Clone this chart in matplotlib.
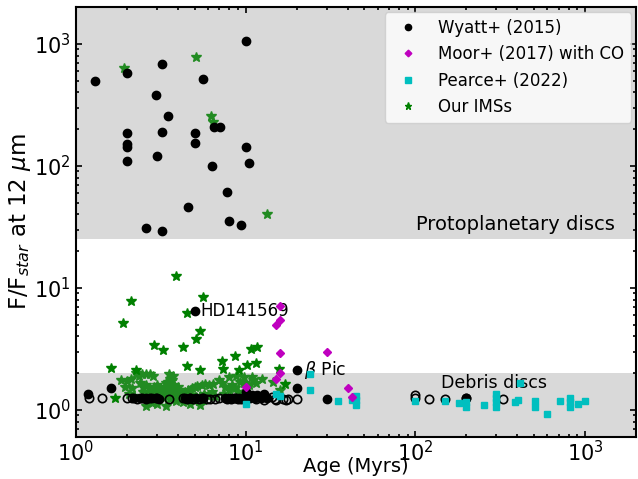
import numpy as np
import matplotlib
matplotlib.use('Agg')
import matplotlib.pyplot as plt

# Wyatt+ (2015), filled points
wyatt_x = [10.1, 3.2, 2.0, 1.3, 5.6, 2.95, 3.5, 6.5, 7.1, 2.0, 3.2, 5.0, 5.0, 2.0, 2.0,
           10.0, 3.0, 2.0, 6.3, 10.4, 7.8, 4.6, 8.0, 9.4, 2.6, 3.2,
           5.0, 20.0, 20.0, 30.0, 1.18, 1.61, 10.1, 12.8,
           2.2, 2.4, 2.6, 2.8, 3.0, 3.1, 4.4, 4.7, 5.1, 5.5,
           7.6, 8.0, 8.4, 8.8, 9.2, 9.6, 10.0, 10.4, 10.6, 10.9, 11.1, 11.4, 11.7,
           12.0, 12.3, 12.6, 12.9, 13.3, 200.0]
wyatt_y = [1050, 690, 580, 500, 520, 380, 255, 210, 210, 185, 190, 185, 155, 152, 142,
           142, 121, 110, 100, 106, 61, 46, 35, 33, 31, 29,
           6.4, 2.13, 1.52, 1.23, 1.35, 1.52, 1.39, 1.36,
           1.24, 1.25, 1.24, 1.25, 1.25, 1.23, 1.25, 1.24, 1.25, 1.24,
           1.25, 1.24, 1.25, 1.24, 1.26, 1.25, 1.28, 1.32, 1.25, 1.33, 1.28, 1.24, 1.31,
           1.27, 1.24, 1.3, 1.27, 1.25, 1.24]

# Wyatt+ (2015), open points
wyatt_open_x = [1.19, 1.42, 2.0, 2.15, 2.3, 2.45, 2.6, 2.75, 2.95, 3.55, 4.3, 4.5, 4.7,
                4.9, 5.3, 5.6, 5.9, 6.2, 6.6, 7.0, 7.8, 8.2, 8.6, 9.0, 9.4, 11.5,
                12.8, 14.3, 14.8, 15.2, 16.7, 17.2, 17.8, 20.0, 100, 100, 120, 150,
                200, 330]
wyatt_open_y = [1.26, 1.24, 1.24, 1.24, 1.22, 1.24, 1.23, 1.24, 1.24, 1.22, 1.24, 1.23,
                1.24, 1.22, 1.23, 1.24, 1.22, 1.23, 1.22, 1.24, 1.23, 1.22, 1.24, 1.23,
                1.22, 1.22, 1.21, 1.27, 1.22, 1.21, 1.22, 1.21, 1.22, 1.22, 1.33, 1.24,
                1.22, 1.22, 1.24, 1.22]

# Moor+ (2017) with CO
moor_x = [10.0, 15.2, 16.0, 16.0, 15.2, 16.0, 16.0, 30.0, 40.0, 42.5]
moor_y = [1.55, 1.8, 2.0, 2.9, 5.0, 5.4, 7.1, 3.0, 1.5, 1.28]

# Pearce+ (2022)
pearce_x = [10, 15.2, 15.9, 24, 24, 35, 42.4, 45, 45, 45, 100, 150, 180, 200, 200, 255,
            300, 300, 300, 300, 385, 405, 415, 510, 510, 600, 710, 820, 820, 820, 910,
            1000]
pearce_y = [1.11, 1.35, 1.3, 1.96, 1.45, 1.17, 1.2, 1.3, 1.2, 1.1, 1.17, 1.19, 1.13,
            1.15, 1.06, 1.09, 1.35, 1.25, 1.15, 1.05, 1.15, 1.2, 1.65, 1.18, 1.05, 0.92,
            1.17, 1.25, 1.15, 1.05, 1.11, 1.19]

# Our IMSs (bright)
ims_x = [3.9, 2.1, 5.6, 4.5, 1.9, 5.4, 5.1, 2.9, 4.25, 3.25, 10.7, 11.6, 1.62, 2.25,
         4.5, 5.4, 7.3, 7.4, 8.65, 10.2, 11.5, 9.1, 15.7, 17.1, 1.7]
ims_y = [12.5, 7.8, 8.4, 6.2, 5.1, 4.45, 3.8, 3.4, 3.3, 3.1, 3.15, 3.3, 2.2, 2.12,
         2.3, 2.1, 2.5, 2.15, 2.75, 2.35, 2.4, 2.1, 2.15, 1.62, 1.26]

# Our IMSs (rest)
ims2_x = [1.93, 5.1, 6.25, 6.45, 13.4,
          1.84, 2.0, 2.1, 1.95, 2.15, 2.05, 2.2,
          2.25, 2.45, 2.6, 2.75, 2.85, 2.35,
          2.4, 2.5, 2.6, 2.7, 2.8, 2.9, 3.0, 3.1, 3.2, 3.3, 3.4, 3.5, 3.6, 3.7, 3.8,
          3.9, 3.6, 3.4, 3.2, 3.0, 2.7, 2.5, 3.5, 3.7, 3.9, 4.0, 4.1, 3.8, 3.3, 2.9,
          2.6, 3.6, 4.1, 4.2, 3.75, 3.55,
          2.6, 2.8, 3.0, 3.4, 3.9, 4.3, 4.7, 5.4,
          4.4, 4.6, 4.8, 5.0, 5.2, 5.5, 5.8, 6.1, 6.4, 4.5, 4.8, 5.1, 5.4, 5.7, 6.0,
          6.3, 6.6, 5.0, 5.3, 5.6,
          7.0, 7.3, 7.6, 8.0, 8.3, 8.7, 9.0, 9.5, 8.0, 8.8, 9.3, 9.8, 10.5, 11.0,
          11.5, 7.5, 9.2, 10.2, 12.5, 14.5, 16.0, 9.8, 10.9]
ims2_y = [635, 780, 255, 228, 40,
          1.75, 1.72, 1.78, 1.55, 1.5, 1.35, 1.3,
          2.02, 1.98, 1.95, 1.97, 1.9, 1.9,
          1.65, 1.55, 1.6, 1.5, 1.45, 1.55, 1.6, 1.5, 1.45, 1.55, 1.65, 1.7, 1.8,
          1.75, 1.6, 1.5, 1.5, 1.4, 1.35, 1.4, 1.35, 1.4, 1.35, 1.38, 1.42, 1.55,
          1.45, 1.3, 1.25, 1.3, 1.25, 1.22, 1.3, 1.22, 1.9, 1.95,
          1.08, 1.14, 1.12, 1.08, 1.17, 1.15, 1.12, 1.1,
          1.4, 1.45, 1.5, 1.55, 1.58, 1.6, 1.62, 1.6, 1.62, 1.3, 1.32, 1.28, 1.3,
          1.35, 1.3, 1.4, 1.3, 1.2, 1.18, 1.2,
          1.75, 1.65, 1.55, 1.45, 1.6, 1.5, 1.4, 1.35, 1.85, 1.9, 1.7, 1.65, 1.6,
          1.75, 1.65, 1.35, 1.3, 1.5, 1.8, 1.7, 1.45, 1.84, 1.84]

fig = plt.figure(figsize=(6.38, 4.79), dpi=100)
ax = fig.add_axes([0.119, 0.088, 0.878, 0.897])

ax.set_xscale('log')
ax.set_yscale('log')
ax.set_xlim(1, 2000)
ax.set_ylim(0.6, 2000)

grey = '#d9d9d9'
ax.axhspan(0.6, 2, color=grey, zorder=0, lw=0)
ax.axhspan(25, 2000, color=grey, zorder=0, lw=0)

ax.plot(ims2_x, ims2_y, '*', color='forestgreen', ms=7, ls='none', zorder=2)
ax.plot(ims_x, ims_y, '*', color='green', ms=7, ls='none', zorder=2)
ax.plot(wyatt_open_x, wyatt_open_y, 'o', mfc='none', mec='black', mew=1.2, ms=6,
        ls='none', zorder=3)
ax.plot(wyatt_x, wyatt_y, 'o', color='black', ms=6, ls='none', zorder=3)
ax.plot(pearce_x, pearce_y, 's', color='c', ms=5, ls='none', zorder=4)
ax.plot(moor_x, moor_y, 'D', color='m', ms=4.5, ls='none', zorder=4)

# legend handles
h1, = ax.plot([], [], 'o', color='black', ms=6, ls='none', label='Wyatt+ (2015)')
h2, = ax.plot([], [], 'D', color='m', ms=4.5, ls='none', label='Moor+ (2017) with CO')
h3, = ax.plot([], [], 's', color='c', ms=5, ls='none', label='Pearce+ (2022)')
h4, = ax.plot([], [], '*', color='green', ms=7, ls='none', label='Our IMSs')
ax.legend(handles=[h1, h2, h3, h4], loc='upper right', fontsize=12,
          markerscale=0.75, framealpha=0.8, borderaxespad=0.3)

ax.text(5.4, 6.4, 'HD141569', fontsize=12, va='center')
ax.text(22, 2.13, r'$\beta$ Pic', fontsize=12.5, va='center')
ax.text(1500, 33, 'Protoplanetary discs', fontsize=14, ha='right', va='center')
ax.text(142, 1.67, 'Debris discs', fontsize=12.5, va='center')

ax.set_xlabel('Age (Myrs)', fontsize=14)
ax.set_ylabel(r'F/F$_{star}$ at 12 $\mu$m', fontsize=16.5, labelpad=1)
ax.xaxis.set_label_coords(0.5, -0.048)
ax.tick_params(which='both', direction='in', top=True, right=True, labelsize=15)
ax.tick_params(axis='x', pad=2)
ax.tick_params(which='major', length=4, width=1.2)
ax.tick_params(which='minor', length=2.5, width=1.2)
for s in ax.spines.values():
    s.set_linewidth(1.5)

plt.savefig('out.png', dpi=100)
